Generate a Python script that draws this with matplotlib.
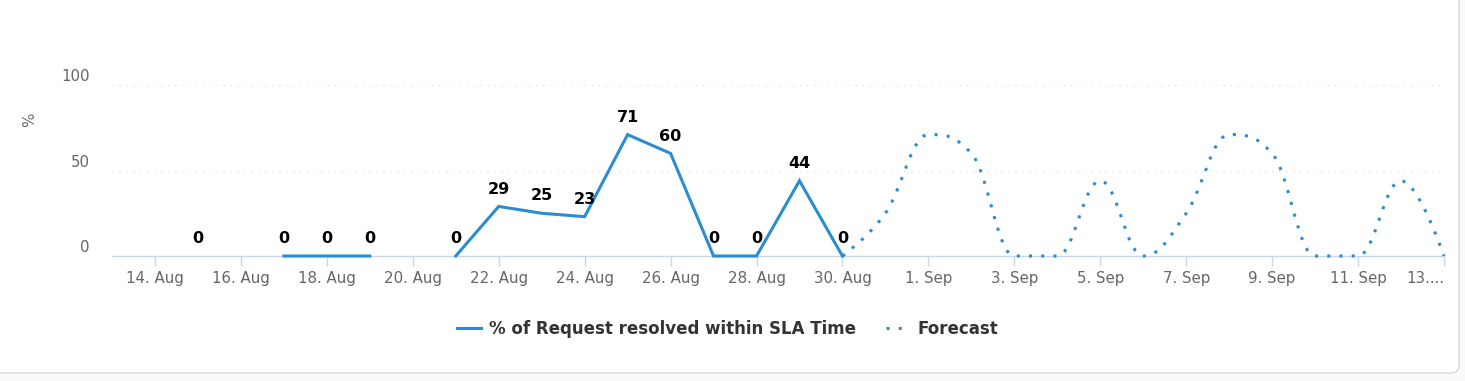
import numpy as np
import matplotlib
matplotlib.use("Agg")
import matplotlib.pyplot as plt
import matplotlib.dates as mdates
from matplotlib.path import Path
from matplotlib.patches import PathPatch, FancyBboxPatch
from matplotlib.lines import Line2D

# data
actual_dates = np.arange(np.datetime64("2024-08-15"), np.datetime64("2024-08-31"))
actual_values = [0, None, 0, 0, 0, None, 0, 29, 25, 23, 71, 60, 0, 0, 44, 0]

forecast_dates = np.arange(np.datetime64("2024-08-30"), np.datetime64("2024-09-14"))
forecast_values = [0, 25, 71, 60, 0, 0, 44, 0, 25, 71, 60, 0, 0, 44, 0]

tick_dates = np.arange(np.datetime64("2024-08-14"), np.datetime64("2024-09-14"), 2)
tick_labels = ["14. Aug", "16. Aug", "18. Aug", "20. Aug", "22. Aug", "24. Aug",
               "26. Aug", "28. Aug", "30. Aug", "1. Sep", "3. Sep", "5. Sep",
               "7. Sep", "9. Sep", "11. Sep", "13...."]
y_ticks = [0, 50, 100]

BLUE = "#2b8cd3"
GREY = "#666666"
AXIS = "#ccd6eb"


def spline_path(xs, ys):
    # highcharts-like smoothing: bezier control points, no overshoot
    n = len(xs)
    left = [None] * n
    right = [None] * n
    for i in range(n):
        x, y = xs[i], ys[i]
        if 0 < i < n - 1:
            px, py = xs[i - 1], ys[i - 1]
            nx, ny = xs[i + 1], ys[i + 1]
            lcx, lcy = (1.5 * x + px) / 2.5, (1.5 * y + py) / 2.5
            rcx, rcy = (1.5 * x + nx) / 2.5, (1.5 * y + ny) / 2.5
            corr = (rcy - lcy) * (rcx - x) / (rcx - lcx) + y - rcy
            lcy += corr
            rcy += corr
            if lcy > max(py, y):
                lcy = max(py, y); rcy = 2 * y - lcy
            elif lcy < min(py, y):
                lcy = min(py, y); rcy = 2 * y - lcy
            if rcy > max(ny, y):
                rcy = max(ny, y); lcy = 2 * y - rcy
            elif rcy < min(ny, y):
                rcy = min(ny, y); lcy = 2 * y - rcy
            left[i], right[i] = (lcx, lcy), (rcx, rcy)
        else:
            left[i] = right[i] = (x, y)
    verts = [(xs[0], ys[0])]
    codes = [Path.MOVETO]
    for i in range(1, n):
        verts += [right[i - 1], left[i], (xs[i], ys[i])]
        codes += [Path.CURVE4] * 3
    return Path(verts, codes)


fig = plt.figure(figsize=(14.65, 3.81), dpi=100)
fig.patch.set_facecolor("#fafafa")

# card background
card = FancyBboxPatch((-0.3, 0.08), 14.89, 4.2, boxstyle="round,pad=0,rounding_size=0.08",
                      transform=fig.dpi_scale_trans, facecolor="white",
                      edgecolor="#d9d9d9", linewidth=1.0, zorder=-5)
fig.patches.append(card)

W, H = 1465, 381
ax = fig.add_axes([112 / W, (H - 256) / H, (1444 - 112) / W, (256 - 85) / H])
ax.set_facecolor("none")

ax_x = mdates.date2num(actual_dates)
ay = np.array([np.nan if v is None else v for v in actual_values], dtype=float)
ax.plot(ax_x, ay, color=BLUE, lw=2.2, solid_joinstyle="miter", clip_on=False, zorder=3)

fx = mdates.date2num(forecast_dates)
fpatch = PathPatch(spline_path(list(fx), list(forecast_values)), facecolor="none",
                   edgecolor=BLUE, lw=2.2, linestyle=(0, (1, 3)), capstyle="butt",
                   clip_on=False, zorder=3)
ax.add_patch(fpatch)

for xv, v in zip(ax_x, actual_values):
    if v is None:
        continue
    ax.annotate(str(v), (xv, v), xytext=(0, 12.5), textcoords="offset points",
                ha="center", va="center", fontsize=11.5, fontweight="bold",
                color="black", zorder=4, annotation_clip=False)

ax.set_xlim(mdates.date2num(np.datetime64("2024-08-13")), mdates.date2num(np.datetime64("2024-09-13")))
ax.set_ylim(0, 100)

for s in ["top", "right", "left"]:
    ax.spines[s].set_visible(False)
ax.spines["bottom"].set_color(AXIS)
ax.spines["bottom"].set_linewidth(1)

ax.set_xticks(mdates.date2num(tick_dates))
ax.set_xticklabels(tick_labels)
ax.tick_params(axis="x", length=7.5, width=1, color=AXIS, pad=3, labelsize=10.8, labelcolor=GREY)
ax.get_xticklabels()[-1].set_ha("right")

ax.set_yticks(y_ticks)
ax.set_yticklabels([])
ax.tick_params(axis="y", length=0)
for v in y_ticks:
    if v > 0:
        ax.axhline(v, color="#e3e3e3", lw=1, linestyle=(0, (1, 4)), zorder=1)
    ax.annotate(str(v), (0, v), xycoords=("axes fraction", "data"), xytext=(-16, 6),
                textcoords="offset points", ha="right", va="center",
                fontsize=10.8, color=GREY, annotation_clip=False)

fig.text(30 / W, 1 - 120 / H, "%", rotation=90, ha="center", va="center",
         fontsize=10.8, color=GREY)

handles = [Line2D([], [], color=BLUE, lw=2.2),
           Line2D([], [], color=BLUE, lw=2.2, linestyle=(0, (1, 3)))]
fig.legend(handles, ["% of Request resolved within SLA Time", "Forecast"],
           loc="center", bbox_to_anchor=(728 / W, 1 - 329 / H), ncol=2,
           frameon=False, prop={"size": 12, "weight": "bold"},
           labelcolor="#333333", handlelength=1.4, handletextpad=0.5,
           columnspacing=1.8)

fig.savefig("out.png", dpi=100, facecolor=fig.get_facecolor())
